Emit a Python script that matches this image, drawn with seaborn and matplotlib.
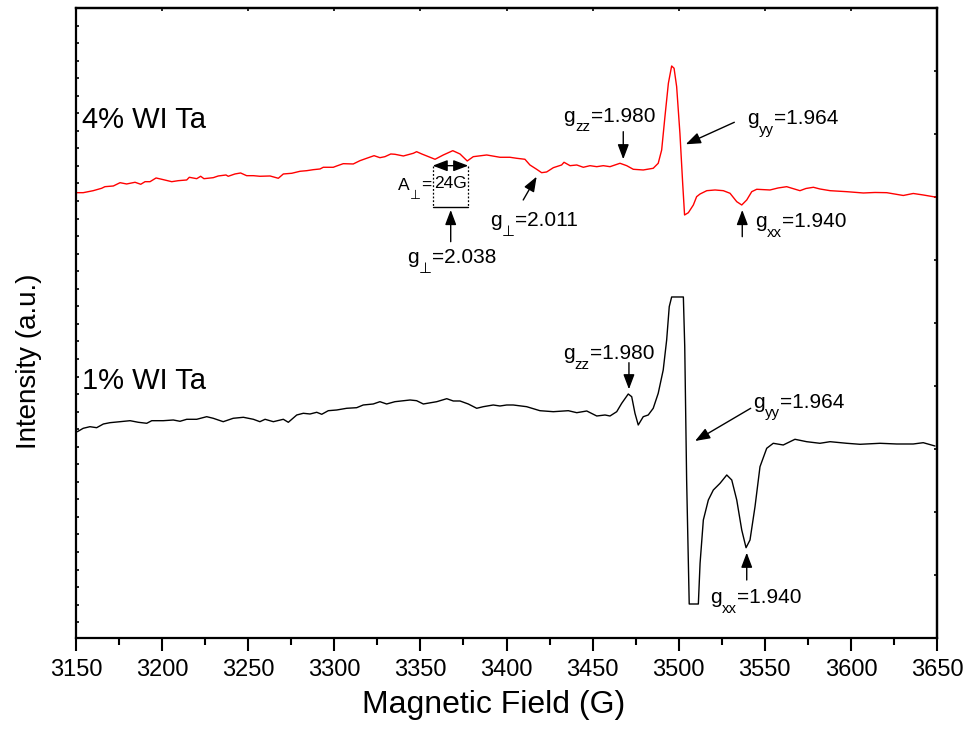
import matplotlib
matplotlib.use("Agg")
import matplotlib.pyplot as plt
import numpy as np
import pandas as pd
import seaborn as sns
from matplotlib.ticker import MultipleLocator, FixedLocator

# ---- EPR spectra (field in G, intensity in arbitrary units) ----
field_4 = [3150.4, 3154.2, 3160.0, 3164.9, 3166.8, 3171.7, 3175.6, 3179.4, 3184.3, 3187.6,
           3190.1, 3193.0, 3196.5, 3199.8, 3205.6, 3209.4, 3214.3, 3215.8, 3220.1, 3222.4,
           3224.3, 3229.7, 3232.6, 3237.1, 3238.4, 3242.3, 3245.6, 3249.1, 3253.0, 3256.8,
           3262.7, 3267.5, 3270.4, 3275.3, 3280.1, 3284.0, 3287.8, 3291.7, 3293.6, 3299.4,
           3301.4, 3305.2, 3311.0, 3314.9, 3318.8, 3323.1, 3326.5, 3329.4, 3332.8, 3335.2,
           3340.1, 3345.9, 3347.8, 3350.8, 3358.5, 3363.3, 3368.8, 3373.0, 3377.2, 3380.7,
           3388.5, 3396.2, 3402.0, 3405.9, 3410.7, 3413.6, 3417.5, 3420.4, 3423.3, 3427.2,
           3432.0, 3433.4, 3436.9, 3440.8, 3444.6, 3448.5, 3452.4, 3456.2, 3460.1, 3465.9,
           3469.8, 3473.6, 3479.4, 3485.2, 3488.1, 3490.1, 3492.0, 3494.0, 3495.9, 3497.3,
           3498.8, 3500.7, 3502.3, 3503.4, 3505.6, 3508.5, 3510.4, 3512.4, 3516.3, 3521.1,
           3525.9, 3529.8, 3533.7, 3536.6, 3539.5, 3542.4, 3545.3, 3553.0, 3557.7, 3562.7,
           3570.4, 3573.9, 3578.2, 3582.0, 3587.9, 3597.6, 3607.2, 3614.0, 3620.8, 3630.4,
           3636.2, 3642.0, 3649.8]
int_4 = [445.3, 445.3, 447.3, 449.7, 451.3, 452.0, 455.3, 454.0, 455.7, 453.7,
         456.3, 456.3, 460.0, 458.7, 456.3, 457.3, 458.0, 460.7, 459.3, 461.7,
         459.3, 460.3, 462.0, 463.0, 461.7, 464.0, 465.0, 462.3, 462.3, 461.7,
         462.0, 459.7, 464.0, 464.7, 466.7, 467.3, 468.3, 469.0, 470.7, 470.7,
         472.0, 474.3, 474.0, 477.3, 479.7, 482.3, 480.3, 481.3, 484.0, 483.7,
         482.0, 484.7, 486.3, 484.0, 478.7, 483.0, 487.3, 484.0, 477.0, 481.3,
         483.0, 480.7, 480.7, 479.7, 478.7, 473.0, 468.7, 465.3, 466.0, 470.3,
         473.0, 475.7, 472.3, 473.0, 470.7, 472.3, 471.3, 472.3, 471.3, 474.7,
         472.3, 468.7, 468.0, 469.7, 474.7, 488.0, 521.3, 554.7, 572.0, 569.7,
         551.3, 504.7, 454.7, 423.0, 425.3, 433.0, 441.3, 444.0, 447.3, 448.0,
         447.3, 444.7, 436.3, 433.0, 438.0, 446.3, 448.7, 448.0, 450.0, 451.3,
         447.3, 449.5, 450.7, 449.0, 447.3, 446.3, 445.0, 445.5, 445.3, 442.5,
         444.5, 443.0, 440.7]

field_1 = [3150.8, 3154.2, 3158.1, 3162.0, 3165.9, 3169.7, 3175.6, 3181.4, 3186.2, 3191.1,
           3194.0, 3200.7, 3206.5, 3210.4, 3214.3, 3220.1, 3225.9, 3229.7, 3235.5, 3241.3,
           3247.2, 3253.0, 3256.8, 3259.8, 3264.6, 3270.4, 3273.3, 3278.2, 3282.0, 3285.9,
           3289.8, 3292.7, 3296.5, 3301.4, 3307.2, 3313.0, 3316.8, 3322.6, 3326.5, 3330.4,
           3335.2, 3344.0, 3347.8, 3351.7, 3359.5, 3365.3, 3369.1, 3373.0, 3377.8, 3382.7,
           3386.5, 3392.3, 3396.2, 3400.1, 3403.9, 3411.7, 3419.4, 3427.2, 3435.9, 3440.8,
           3446.6, 3452.4, 3457.2, 3460.1, 3464.0, 3466.9, 3470.7, 3472.7, 3474.6, 3476.5,
           3479.4, 3482.3, 3485.2, 3488.1, 3491.0, 3493.0, 3494.5, 3495.9, 3498.8, 3502.7,
           3503.5, 3504.6, 3506.1, 3511.4, 3512.4, 3514.3, 3517.2, 3520.1, 3524.0, 3527.9,
           3530.8, 3533.7, 3536.6, 3539.1, 3541.4, 3544.3, 3547.2, 3551.1, 3554.9, 3560.7,
           3567.5, 3574.3, 3582.0, 3587.9, 3597.6, 3605.3, 3616.9, 3626.6, 3636.2, 3642.0,
           3648.8]
int_1 = [206.3, 209.7, 211.3, 210.3, 214.0, 215.3, 216.3, 217.3, 215.7, 214.7,
         217.3, 217.3, 218.0, 216.7, 218.7, 218.7, 221.3, 219.7, 216.3, 219.7,
         220.7, 218.7, 216.3, 218.7, 216.3, 218.7, 215.7, 223.0, 224.7, 224.0,
         225.7, 223.7, 227.3, 228.0, 229.7, 230.3, 233.0, 234.0, 236.3, 234.0,
         236.3, 238.0, 237.3, 234.0, 236.3, 239.3, 237.0, 237.0, 234.0, 229.7,
         231.3, 233.0, 232.0, 233.0, 233.0, 231.3, 227.3, 226.3, 227.3, 225.3,
         227.0, 222.0, 223.0, 222.0, 226.3, 234.7, 244.0, 241.3, 224.7, 213.0,
         221.3, 223.0, 229.7, 244.7, 268.0, 298.0, 331.3, 341.0, 341.0, 341.0,
         291.3, 158.0, 34.0, 34.0, 74.7, 118.0, 138.0, 148.0, 154.7, 163.0,
         158.0, 138.0, 108.0, 90.3, 98.0, 131.3, 171.3, 189.7, 194.7, 193.0,
         198.7, 196.3, 194.7, 196.3, 194.7, 193.7, 194.7, 194.0, 194.0, 195.3,
         192.0]

samples = ["4% WI Ta", "1% WI Ta"]
line_colors = {"4% WI Ta": "#ff0000", "1% WI Ta": "#000000"}

df = pd.concat([
    pd.DataFrame({"field": field_4, "intensity": int_4, "sample": samples[0]}),
    pd.DataFrame({"field": field_1, "intensity": int_1, "sample": samples[1]}),
], ignore_index=True)

sns.set_style("ticks")
plt.rcParams["font.family"] = ["Liberation Sans", "DejaVu Sans"]
plt.rcParams["text.color"] = "black"
plt.rcParams["axes.labelcolor"] = "black"
plt.rcParams["xtick.color"] = "black"
plt.rcParams["ytick.color"] = "black"
plt.rcParams["axes.edgecolor"] = "black"

fig = plt.figure(figsize=(9.68, 7.38), dpi=100)
ax = fig.add_axes([0.0785, 0.1355, 0.8895, 0.8537])

sns.lineplot(data=df, x="field", y="intensity", hue="sample", palette=line_colors,
             estimator=None, sort=False, legend=False, linewidth=1.0, ax=ax)

ax.set_xlim(3150, 3650)
ax.set_ylim(0, 630)

# frame and ticks
for side in ["left", "right", "top", "bottom"]:
    ax.spines[side].set_visible(True)
    ax.spines[side].set_linewidth(1.6)
    ax.spines[side].set_color("black")

ax.xaxis.set_major_locator(MultipleLocator(50))
ax.xaxis.set_minor_locator(MultipleLocator(25))
ax.tick_params(axis="x", which="major", direction="out", length=9, width=1.5,
               labelsize=17, pad=6, top=False, colors="black")
ax.tick_params(axis="x", which="minor", direction="out", length=5, width=1.5, top=False)

ax.yaxis.set_major_locator(FixedLocator(list(np.arange(630 - 17.55, 0, -17.55))))
ax.tick_params(axis="y", which="major", direction="in", length=2.5, width=1.2,
               left=True, right=False, labelleft=False)

top = ax.secondary_xaxis("top")
top.xaxis.set_major_locator(MultipleLocator(50))
top.tick_params(direction="in", length=2.5, width=1.2, labeltop=False)
top.spines["top"].set_linewidth(1.6)

right = ax.secondary_yaxis("right")
right.yaxis.set_major_locator(MultipleLocator(63))
right.tick_params(direction="in", length=2.5, width=1.2, labelright=False)
right.spines["right"].set_linewidth(1.6)

ax.set_xlabel("Magnetic Field (G)", fontsize=23)
ax.set_ylabel("Intensity (a.u.)", fontsize=20)
ax.xaxis.set_label_coords(0.4855, -0.082)
ax.yaxis.set_label_coords(-0.04, 0.44)

# sample labels
ax.text(3153.5, 510, samples[0], fontsize=21, ha="left", va="baseline")
ax.text(3153.5, 249, samples[1], fontsize=21, ha="left", va="baseline")

arrow = dict(arrowstyle="-|>,head_length=0.45,head_width=0.17", mutation_scale=20,
             color="black", lw=1.0, shrinkA=0, shrinkB=0)


def pointer(tail, head):
    ax.annotate("", xy=head, xytext=tail, arrowprops=arrow)


def sublabel(x, y, base, sub, rest, size=15, drop=0.47):
    """Text of the form base_sub rest with a lowered, smaller subscript."""
    t1 = ax.text(x, y, base, fontsize=size, ha="left", va="baseline")
    t2 = ax.annotate(sub, xy=(1, y), xycoords=(t1, "data"),
                     xytext=(0.2, -drop * size), textcoords="offset points",
                     fontsize=size * 0.72, ha="left", va="baseline")
    ax.annotate(rest, xy=(1, y), xycoords=(t2, "data"),
                xytext=(0.2, 0), textcoords="offset points",
                fontsize=size, ha="left", va="baseline")


# 4% sample annotations
sublabel(3433.0, 516.3, "g", "zz", "=1.980")
pointer((3467.8, 506.3), (3467.8, 478.7))
sublabel(3539.5, 514.0, "g", "yy", "=1.964")
pointer((3532.3, 515.7), (3504.1, 493.7))
sublabel(3544.3, 410.7, "g", "xx", "=1.940")
pointer((3536.9, 401.3), (3536.9, 428.0))
sublabel(3390.4, 412.0, "g", "\u22a5", "=2.011")
pointer((3409.7, 438.0), (3417.5, 461.3))
sublabel(3342.0, 374.7, "g", "\u22a5", "=2.038")
pointer((3367.6, 396.3), (3367.6, 428.0))

# hyperfine splitting box
box_l, box_r, box_t, box_b = 3357.1, 3377.8, 472.3, 430.7
ax.plot([box_l, box_l], [box_t, box_b], color="black", lw=0.9, ls=(0, (1.5, 1.5)))
ax.plot([box_r, box_r], [box_t, box_b], color="black", lw=0.9, ls=(0, (1.5, 1.5)))
ax.plot([box_l, box_r], [box_b, box_b], color="black", lw=1.0)
ax.annotate("", xy=(box_r, box_t), xytext=(box_l, box_t),
            arrowprops=dict(arrowstyle="<|-|>,head_length=0.45,head_width=0.17",
                            mutation_scale=20, color="black", lw=1.0,
                            shrinkA=0, shrinkB=0))
ax.text((box_l + box_r) / 2, 454, "24G", fontsize=12.5, ha="center", va="center")
sublabel(3337.0, 448.0, "A", "\u22a5", "=", size=12.5, drop=0.5)

# 1% sample annotations
sublabel(3432.6, 279.0, "g", "zz", "=1.980")
pointer((3471.1, 275.3), (3471.1, 248.7))
sublabel(3543.0, 230.3, "g", "yy", "=1.964")
pointer((3541.8, 229.7), (3509.5, 197.0))
sublabel(3518.2, 34.7, "g", "xx", "=1.940")
pointer((3539.5, 58.0), (3539.5, 85.3))

fig.savefig("out.png", dpi=100, facecolor="white")
